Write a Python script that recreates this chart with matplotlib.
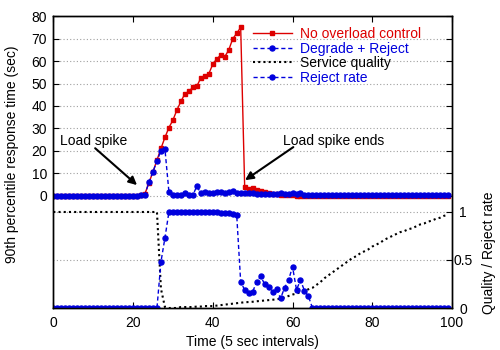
import matplotlib
matplotlib.use("Agg")
import matplotlib.pyplot as plt
import numpy as np

plt.rcParams["font.family"] = ["Liberation Sans", "DejaVu Sans"]
plt.rcParams["font.size"] = 10

RED = "#dd0000"
BLUE = "#0000dd"

# tempo em intervalos de 5 s
tempo = np.arange(100)

# percentil 90 do tempo de resposta (seg) sem controle de sobrecarga
sem_controle = [
    0, 0, 0, 0, 0, 0, 0, 0, 0, 0,
    0, 0, 0, 0, 0, 0, 0, 0, 0, 0,
    0, 0, 0.3, 1.0, 5.9, 10.7, 15.9, 21.1, 26.0, 30.4,
    33.7, 38.2, 42.0, 45.4, 46.5, 48.3, 48.8, 52.5, 53.4, 54.3,
    58.6, 61.0, 62.6, 61.9, 64.9, 69.9, 72.3, 75.0, 4.0, 3.0,
    3.4, 2.5, 2.0, 1.6, 1.3, 1.0, 0.8, 0.6, 0.4, 0.3,
    0.2, 0.1, 0.1, 0, 0, 0, 0, 0, 0, 0,
    0, 0, 0, 0, 0, 0, 0, 0, 0, 0,
    0, 0, 0, 0, 0, 0, 0, 0, 0, 0,
    0, 0, 0, 0, 0, 0, 0, 0, 0, 0,
]

# degradar + rejeitar
degrada_rejeita = [
    0, 0, 0, 0, 0, 0, 0, 0, 0, 0,
    0, 0, 0, 0, 0, 0, 0, 0, 0, 0,
    0, 0, 0.2, 0.6, 6.2, 10.7, 15.6, 20.1, 20.8, 1.8,
    0.3, 0.3, 0.3, 1.2, 0.3, 0.3, 4.3, 1.2, 1.6, 1.3,
    1.4, 1.6, 1.5, 1.3, 1.5, 2.0, 1.3, 1.2, 1.2, 1.1,
    1.1, 1.0, 1.0, 1.0, 0.9, 0.9, 0.9, 1.2, 0.9, 0.9,
    1.3, 0.8, 1.3, 0.5, 0.3, 0.3, 0.3, 0.3, 0.3, 0.3,
    0.3, 0.3, 0.3, 0.3, 0.3, 0.3, 0.3, 0.3, 0.3, 0.3,
    0.3, 0.3, 0.3, 0.3, 0.3, 0.3, 0.3, 0.3, 0.3, 0.3,
    0.3, 0.3, 0.3, 0.3, 0.3, 0.3, 0.3, 0.3, 0.3, 0.3,
]

# qualidade do servico (0..1)
qualidade = [
    1, 1, 1, 1, 1, 1, 1, 1, 1, 1,
    1, 1, 1, 1, 1, 1, 1, 1, 1, 1,
    1, 1, 1, 1, 1, 1, 1, 0.2, 0.01, 0.0,
    0.0, 0.0, 0.01, 0.01, 0.01, 0.01, 0.015, 0.015, 0.02, 0.02,
    0.02, 0.025, 0.03, 0.035, 0.04, 0.045, 0.05, 0.055, 0.06, 0.062,
    0.065, 0.07, 0.074, 0.078, 0.082, 0.086, 0.09, 0.098, 0.11, 0.125,
    0.14, 0.15, 0.165, 0.18, 0.195, 0.21, 0.24, 0.27, 0.31, 0.34,
    0.37, 0.40, 0.43, 0.46, 0.49, 0.52, 0.54, 0.57, 0.59, 0.61,
    0.64, 0.66, 0.68, 0.71, 0.73, 0.75, 0.77, 0.79, 0.80, 0.82,
    0.83, 0.85, 0.87, 0.88, 0.90, 0.91, 0.93, 0.94, 0.96, 0.97,
]

# taxa de rejeicao (0..1)
taxa_rejeicao = [
    0, 0, 0, 0, 0, 0, 0, 0, 0, 0,
    0, 0, 0, 0, 0, 0, 0, 0, 0, 0,
    0, 0, 0, 0, 0, 0, 0, 0.48, 0.73, 1.0,
    1.0, 1.0, 1.0, 1.0, 1.0, 1.0, 1.0, 1.0, 1.0, 1.0,
    0.995, 0.995, 0.99, 0.99, 0.99, 0.98, 0.97, 0.27, 0.19, 0.16,
    0.17, 0.27, 0.33, 0.25, 0.22, 0.17, 0.2, 0.1, 0.21, 0.29,
    0.43, 0.19, 0.29, 0.18, 0.12, 0, 0, 0, 0, 0,
    0, 0, 0, 0, 0, 0, 0, 0, 0, 0,
    0, 0, 0, 0, 0, 0, 0, 0, 0, 0,
    0, 0, 0, 0, 0, 0, 0, 0, 0, 0,
]

fig = plt.figure(figsize=(5, 3.5), dpi=100)
ax = fig.add_axes([0.1066, 0.12, 0.7974, 0.834])
ax2 = ax.twinx()

grid_kw = dict(color="#a0a0a0", linestyle=(0, (1, 2)), linewidth=0.8)

# painel de cima: tempo de resposta
l1, = ax.plot(tempo, sem_controle, color=RED, lw=1, marker="s", ms=3.2,
              label="No overload control")
l2, = ax.plot(tempo, degrada_rejeita, color=BLUE, lw=1, ls=(0, (3, 2)),
              marker="o", ms=3.6, label="Degrade + Reject")
ax.set_xlim(0, 100)
ax.set_ylim(-49.9, 80)
ax.set_yticks(np.arange(0, 81, 10))
ax.set_xticks(np.arange(0, 101, 20))
ax.yaxis.grid(True, **grid_kw)
ax.tick_params(axis="y", direction="in", length=4, right=True, pad=4.5)
ax.tick_params(axis="x", direction="in", length=4, top=True, pad=6)
ax.set_ylabel("90th percentile response time (sec)")
ax.yaxis.set_label_coords(-0.086, 0.527)
ax.set_xlabel("Time (5 sec intervals)")
ax.xaxis.set_label_coords(0.5, -0.093)

# painel de baixo: qualidade e rejeicao
l3, = ax2.plot(tempo, qualidade, color="black", lw=1.5, ls=(0, (1, 1.5)),
               label="Service quality")
l4, = ax2.plot(tempo, taxa_rejeicao, color=BLUE, lw=1, ls=(0, (3, 2)),
               marker="o", ms=3.6, label="Reject rate")
ax2.set_ylim(0, 3.04)
ax2.set_yticks([0, 0.5, 1])
ax2.set_yticklabels(["0", "0.5", "1"])
for lab in ax2.get_yticklabels():
    lab.set_horizontalalignment("center")
ax2.tick_params(axis="y", direction="in", length=4, pad=8)
ax2.yaxis.grid(True, **grid_kw)
ax2.set_axisbelow(True)
ax2.set_ylabel("Quality / Reject rate")
ax2.yaxis.set_label_coords(1.075, 0.19)

for a in (ax, ax2):
    for s in a.spines.values():
        s.set_linewidth(1)

# setas
ax.text(1.7, 24.4, "Load spike", ha="left", va="center")
ax.annotate("", xy=(21, 4.8), xytext=(10.5, 21.2),
            arrowprops=dict(arrowstyle="-|>", color="black", lw=1.5,
                            mutation_scale=12, shrinkA=0, shrinkB=0))
ax.text(57.6, 24.4, "Load spike ends", ha="left", va="center")
ax.annotate("", xy=(48.1, 7.0), xytext=(60.2, 21.7),
            arrowprops=dict(arrowstyle="-|>", color="black", lw=1.5,
                            mutation_scale=12, shrinkA=0, shrinkB=0))

leg = ax2.legend(handles=[l1, l2, l3, l4], loc="upper left",
                 bbox_to_anchor=(0.5, 0.963), frameon=False, numpoints=1,
                 handlelength=2.8, handletextpad=0.6, labelspacing=0.05,
                 borderpad=0, borderaxespad=0)
for txt, cor in zip(leg.get_texts(), [RED, BLUE, "black", BLUE]):
    txt.set_color(cor)

fig.savefig("out.png", dpi=100)
